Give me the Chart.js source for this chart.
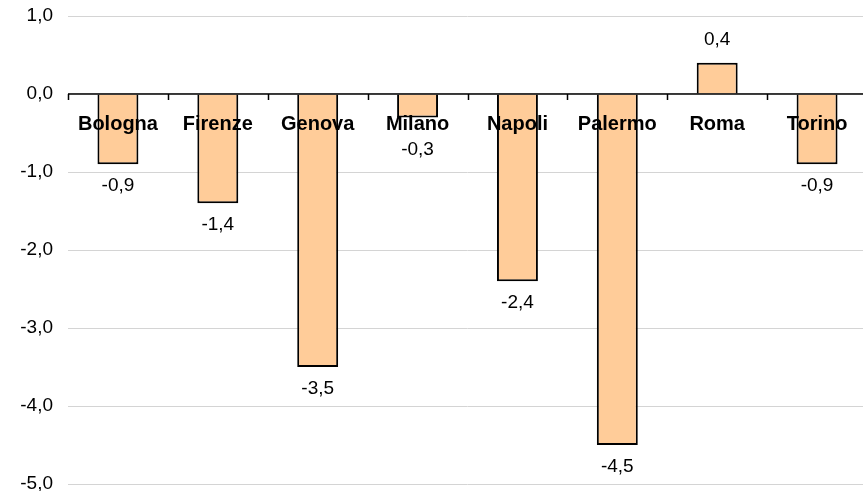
<!DOCTYPE html>
<html>
<head>
<meta charset="utf-8">
<script src="https://cdn.jsdelivr.net/npm/chart.js@4/dist/chart.umd.min.js"></script>
<style>
  html, body { margin: 0; padding: 0; background: #fff; overflow: hidden; }
  #wrap { width: 867px; height: 491px; position: relative; }
</style>
</head>
<body>
<div id="wrap"><canvas id="chart"></canvas></div>
<script>
const cities = ['Bologna', 'Firenze', 'Genova', 'Milano', 'Napoli', 'Palermo', 'Roma', 'Torino'];
const changes = [-0.9, -1.4, -3.5, -0.3, -2.4, -4.5, 0.4, -0.9];
const yTicks = [1, 0, -1, -2, -3, -4, -5];

const FONT = '"Liberation Sans", Arial, sans-serif';
const fmt = v => v.toFixed(1).replace('.', ',');

// zero line, category ticks, city names and value labels
const overlay = {
    id: 'overlay',
    afterDatasetsDraw(chart) {
        const { ctx, chartArea, scales } = chart;
        const x = scales.x, y = scales.y;
        const y0 = y.getPixelForValue(0);
        ctx.save();
        ctx.strokeStyle = '#000';
        ctx.lineWidth = 1.5;
        ctx.beginPath();
        ctx.moveTo(chartArea.left, y0);
        ctx.lineTo(chartArea.right, y0);
        const step = (chartArea.right - chartArea.left) / cities.length;
        for (let i = 0; i <= cities.length; i++) {
            const px = Math.round(chartArea.left + i * step) + 0.5;
            ctx.moveTo(px, y0);
            ctx.lineTo(px, y0 + 6);
        }
        ctx.stroke();

        ctx.fillStyle = '#000';
        ctx.textAlign = 'center';
        ctx.textBaseline = 'middle';
        ctx.font = 'bold 20px ' + FONT;
        cities.forEach((c, i) => {
            ctx.fillText(c, x.getPixelForValue(i), y0 + 30);
        });

        // negative values go under the bar, but never on top of the city name
        ctx.font = '19px ' + FONT;
        changes.forEach((v, i) => {
            const py = y.getPixelForValue(v);
            const ly = v < 0 ? Math.max(py + 22, y0 + 56) : py - 23;
            ctx.fillText(fmt(v), x.getPixelForValue(i), ly);
        });
        ctx.restore();
    }
};

new Chart(document.getElementById('chart'), {
    type: 'bar',
    data: {
        labels: cities,
        datasets: [{
            data: changes,
            backgroundColor: '#FFCC99',
            borderColor: '#000',
            borderWidth: 2,
            barPercentage: 0.41,
            categoryPercentage: 1.0
        }]
    },
    options: {
        responsive: true,
        maintainAspectRatio: false,
        animation: false,
        layout: { padding: { top: 16, bottom: 7, right: 0, left: 0 } },
        plugins: {
            legend: { display: false },
            tooltip: { enabled: false }
        },
        scales: {
            x: {
                display: false,
                offset: true
            },
            y: {
                min: -5,
                max: 1,
                afterBuildTicks: axis => { axis.ticks = yTicks.map(v => ({ value: v })); },
                afterFit: axis => {
                    axis.width = 68;
                    axis.paddingTop = 0;
                    axis.paddingBottom = 0;
                },
                border: { display: false },
                grid: { color: '#d4d4d4', lineWidth: 1, drawTicks: false },
                ticks: {
                    color: '#000',
                    padding: 15,
                    font: { family: FONT, size: 19 },
                    callback: v => fmt(v)
                }
            }
        }
    },
    plugins: [overlay]
});
</script>
</body>
</html>
